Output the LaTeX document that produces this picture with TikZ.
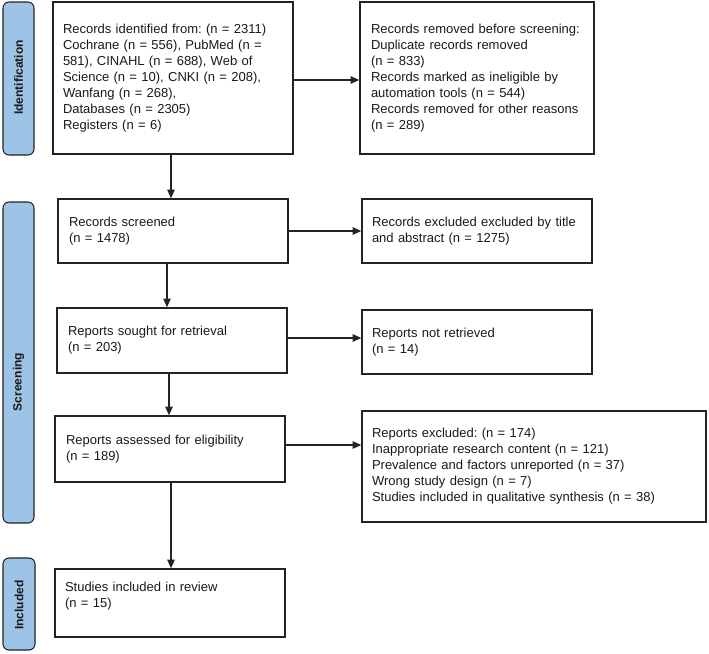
\documentclass[tikz,border=0pt]{standalone}
\usepackage{fontspec}
\setmainfont{Liberation Sans}
\usetikzlibrary{arrows.meta}
\definecolor{sideblue}{RGB}{157,195,230}
\definecolor{edgecol}{RGB}{35,35,35}
\definecolor{txtcol}{RGB}{25,25,25}
\frenchspacing
\begin{document}
\begin{tikzpicture}[x=0.75pt,y=-0.75pt,
  box/.style={draw=edgecol, line width=1pt, rectangle, align=left, text=txtcol,
    font=\fontsize{9.75}{12}\selectfont, inner ysep=0pt},
  side/.style={draw=edgecol, line width=0.8pt, fill=sideblue, rounded corners=4.5pt, rotate=90},
  sidetext/.style={rotate=90, font=\fontsize{9}{11}\selectfont\bfseries, text=txtcol, inner sep=0pt},
  arr/.style={draw=edgecol, line width=1.1pt, -{Triangle[length=6.5pt,width=5.5pt]}}]
\useasboundingbox (0,0) rectangle (709,653);

% side bars
\node[side, minimum width=114.75pt, minimum height=23.25pt] (sideid) at (18.5,78.5) {};
\node[sidetext] (labid) at (18.5,77.5) {Identification};
\node[side, minimum width=240.75pt, minimum height=23.25pt] (sidescr) at (18.5,362.5) {};
\node[sidetext] (labscr) at (18.5,382) {Screening};
\node[side, minimum width=69pt, minimum height=24pt] (sideinc) at (19,604) {};
\node[sidetext] (labinc) at (19,605) {Included};

% boxes
\node[box, minimum width=180pt, minimum height=114pt, inner xsep=7.5pt, text width=165pt] (ident) at (173,78) {Records identified from: (n = 2311)\\Cochrane (n = 556), PubMed (n =\\581), CINAHL (n = 688), Web of\\Science (n = 10), CNKI (n = 208),\\Wanfang (n = 268),\\Databases (n = 2305)\\Registers (n = 6)};

\node[box, minimum width=175.5pt, minimum height=114pt, inner xsep=8.25pt, text width=159pt] (removed) at (477,78) {Records removed before screening:\\Duplicate records removed\\(n = 833)\\Records marked as ineligible by\\automation tools (n = 544)\\Records removed for other reasons\\(n = 289)};

\node[box, minimum width=172.5pt, minimum height=48pt, inner xsep=8.25pt, text width=156pt] (screened) at (173,231) {Records screened\\(n = 1478)};

\node[box, minimum width=172.5pt, minimum height=48pt, inner xsep=7.5pt, text width=157.5pt] (excl1) at (477,231) {Records excluded excluded by title\\and abstract (n = 1275)};

\node[box, minimum width=172.5pt, minimum height=48.75pt, inner xsep=8.25pt, text width=156pt] (sought) at (172,340.5) {Reports sought for retrieval\\(n = 203)};

\node[box, minimum width=172.5pt, minimum height=48pt, inner xsep=7.5pt, text width=157.5pt] (notret) at (477,342) {Reports not retrieved\\(n = 14)};

\node[box, minimum width=172.5pt, minimum height=49.5pt, inner xsep=8.25pt, text width=156pt] (assessed) at (170,449) {Reports assessed for eligibility\\(n = 189)};

\node[box, minimum width=258pt, minimum height=83.25pt, inner xsep=7.5pt, text width=243pt] (excl2) at (534,466.5) {Reports excluded: (n = 174)\\Inappropriate research content (n = 121)\\Prevalence and factors unreported (n = 37)\\Wrong study design (n = 7)\\Studies included in qualitative synthesis (n = 38)};

\node[box, minimum width=172.5pt, minimum height=51pt, inner xsep=7.5pt, text width=157.5pt] (studies) at (170,603) {Studies included in review\\(n = 15)\\\mbox{}};

% connector positions
\coordinate (v1) at (171,0);
\coordinate (v2) at (167,0);
\coordinate (v3) at (169,0);
\coordinate (v4) at (171,0);
\coordinate (h1) at (0,80);
\coordinate (h2) at (0,231);
\coordinate (h3) at (0,338);
\coordinate (h4) at (0,445);

% arrows
\draw[arr] (ident.east |- h1) -- (removed.west |- h1);
\draw[arr] (ident.south -| v1) -- (screened.north -| v1);
\draw[arr] (screened.east |- h2) -- (excl1.west |- h2);
\draw[arr] (screened.south -| v2) -- (sought.north -| v2);
\draw[arr] (sought.east |- h3) -- (notret.west |- h3);
\draw[arr] (sought.south -| v3) -- (assessed.north -| v3);
\draw[arr] (assessed.east |- h4) -- (excl2.west |- h4);
\draw[arr] (assessed.south -| v4) -- (studies.north -| v4);
\end{tikzpicture}
\end{document}
